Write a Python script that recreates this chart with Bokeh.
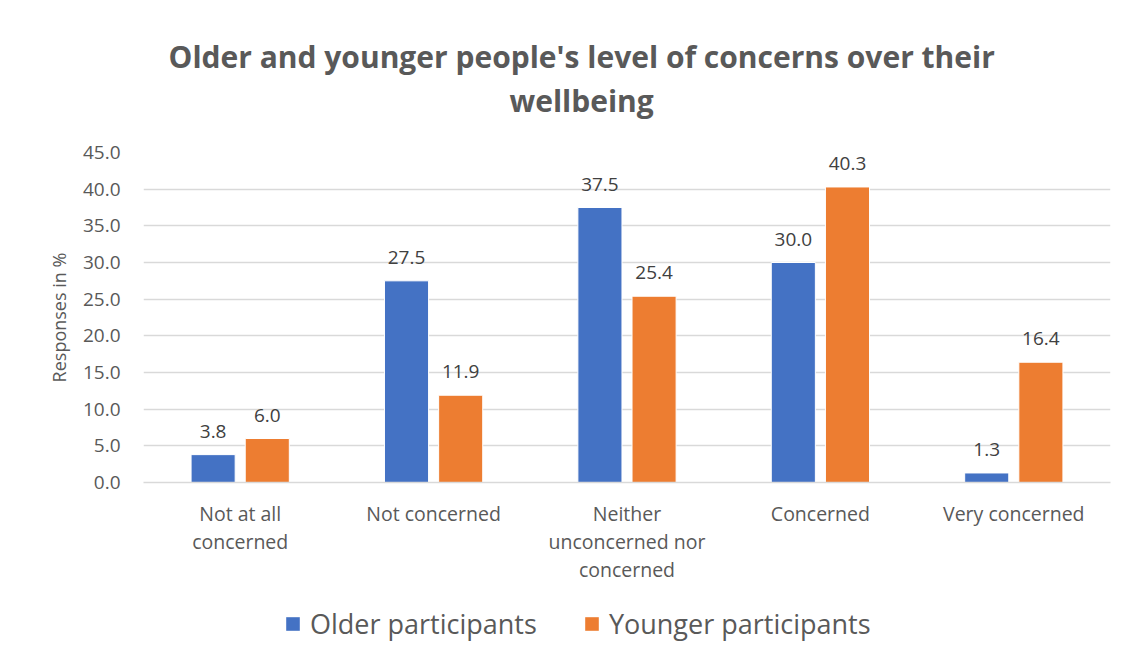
from bokeh.plotting import figure
from bokeh.layouts import column
from bokeh.models import ColumnDataSource, FixedTicker, NumeralTickFormatter, Title, Legend, LegendItem
from bokeh.embed import file_html
from bokeh.resources import INLINE

categories = ["Not at all\nconcerned", "Not concerned", "Neither\nunconcerned nor\nconcerned", "Concerned", "Very concerned"]
older = [3.8, 27.5, 37.5, 30.0, 1.3]
younger = [6.0, 11.9, 25.4, 40.3, 16.4]
y_ticks = [0, 5, 10, 15, 20, 25, 30, 35, 40, 45]
series_names = ["Older participants", "Younger participants"]
title_lines = ["Older and younger people's level of concerns over their", "wellbeing"]

FONT = "Open Sans"
GREY = "#595959"
BLUE = "#4472C4"
ORANGE = "#ED7D31"
W = 1124

idx = list(range(len(categories)))
off = 0.14
bw = 0.228
src_o = ColumnDataSource(dict(x=[i - off for i in idx], y=older, lab=["%.1f" % v for v in older]))
src_y = ColumnDataSource(dict(x=[i + off for i in idx], y=younger, lab=["%.1f" % v for v in younger]))

p = figure(width=W, height=600, output_backend="svg", toolbar_location=None,
           x_range=(-0.5, len(categories) - 0.5), y_range=(0, 45),
           min_border_left=143, min_border_right=14, min_border_top=152, min_border_bottom=118)
p.outline_line_color = None
p.background_fill_color = "white"
p.border_fill_color = "white"

r1 = p.vbar(x="x", top="y", width=bw, source=src_o, fill_color=BLUE, line_color="white", line_width=1)
r2 = p.vbar(x="x", top="y", width=bw, source=src_y, fill_color=ORANGE, line_color="white", line_width=1)

for src in (src_o, src_y):
    p.text(x="x", y="y", text="lab", source=src, text_align="center", text_baseline="bottom",
           y_offset=-17, text_font_size="19px", text_color="#404040", text_font={"value": FONT})

# axes
p.yaxis.ticker = FixedTicker(ticks=y_ticks)
p.yaxis.formatter = NumeralTickFormatter(format="0.0")
p.yaxis.axis_line_color = None
p.yaxis.major_tick_line_color = None
p.yaxis.minor_tick_line_color = None
p.yaxis.major_label_text_font = FONT
p.yaxis.major_label_text_font_size = "19px"
p.yaxis.major_label_text_color = GREY
p.yaxis.major_label_standoff = 17
p.yaxis.axis_label = "Responses in %"
p.yaxis.axis_label_text_font = FONT
p.yaxis.axis_label_text_font_style = "normal"
p.yaxis.axis_label_text_font_size = "18px"
p.yaxis.axis_label_text_color = GREY
p.yaxis.axis_label_standoff = 9

p.xaxis.ticker = FixedTicker(ticks=idx)
p.xaxis.major_label_overrides = {i: c for i, c in zip(idx, categories)}
p.xaxis.axis_line_color = "#d9d9d9"
p.xaxis.axis_line_width = 1.5
p.xaxis.major_tick_line_color = None
p.xaxis.minor_tick_line_color = None
p.xaxis.major_label_text_font = FONT
p.xaxis.major_label_text_font_size = "19.5px"
p.xaxis.major_label_text_line_height = 1.05
p.xaxis.major_label_text_color = GREY
p.xaxis.major_label_standoff = 11

p.xgrid.grid_line_color = None
p.ygrid.grid_line_color = "#d9d9d9"
p.ygrid.grid_line_width = 1.5

# titles (a blank spacer keeps the two title lines clear of the plot area)
spacer = Title(text=" ", text_font_size="1px", standoff=29)
t2 = Title(text=title_lines[1], align="left", offset=366, standoff=0,
           text_font=FONT, text_font_size="30px", text_font_style="bold", text_color=GREY)
t1 = Title(text=title_lines[0], align="left", offset=25, standoff=2,
           text_font=FONT, text_font_size="30px", text_font_style="bold", text_color=GREY)
p.add_layout(spacer, "above")
p.add_layout(t2, "above")
p.add_layout(t1, "above")

# legend strip (frames are aligned with the main plot); hidden renderers only feed the legend
lg = figure(width=W, height=58, output_backend="svg", toolbar_location=None,
            x_range=(-0.5, len(categories) - 0.5), y_range=(0, 45), min_border=0)
lg.axis.visible = False
lg.grid.visible = False
lg.outline_line_color = None
lg.border_fill_color = "white"
lg.background_fill_color = "white"
l1 = lg.vbar(x="x", top="y", bottom="y", width=bw, source=src_o, fill_color=BLUE, line_color=None, visible=False)
l2 = lg.vbar(x="x", top="y", bottom="y", width=bw, source=src_y, fill_color=ORANGE, line_color=None, visible=False)
legend = Legend(items=[LegendItem(label=series_names[0], renderers=[l1]),
                       LegendItem(label=series_names[1], renderers=[l2])],
                orientation="horizontal", location=(141, 16),
                label_text_font=FONT, label_text_font_size="27px", label_text_color=GREY,
                glyph_width=17, glyph_height=17, label_standoff=9, spacing=46,
                inactive_fill_alpha=0,
                border_line_color=None, background_fill_alpha=0, padding=0, margin=0)
lg.add_layout(legend, "center")

layout = column(p, lg, spacing=0)
open("out.html", "w").write(file_html(layout, INLINE))
